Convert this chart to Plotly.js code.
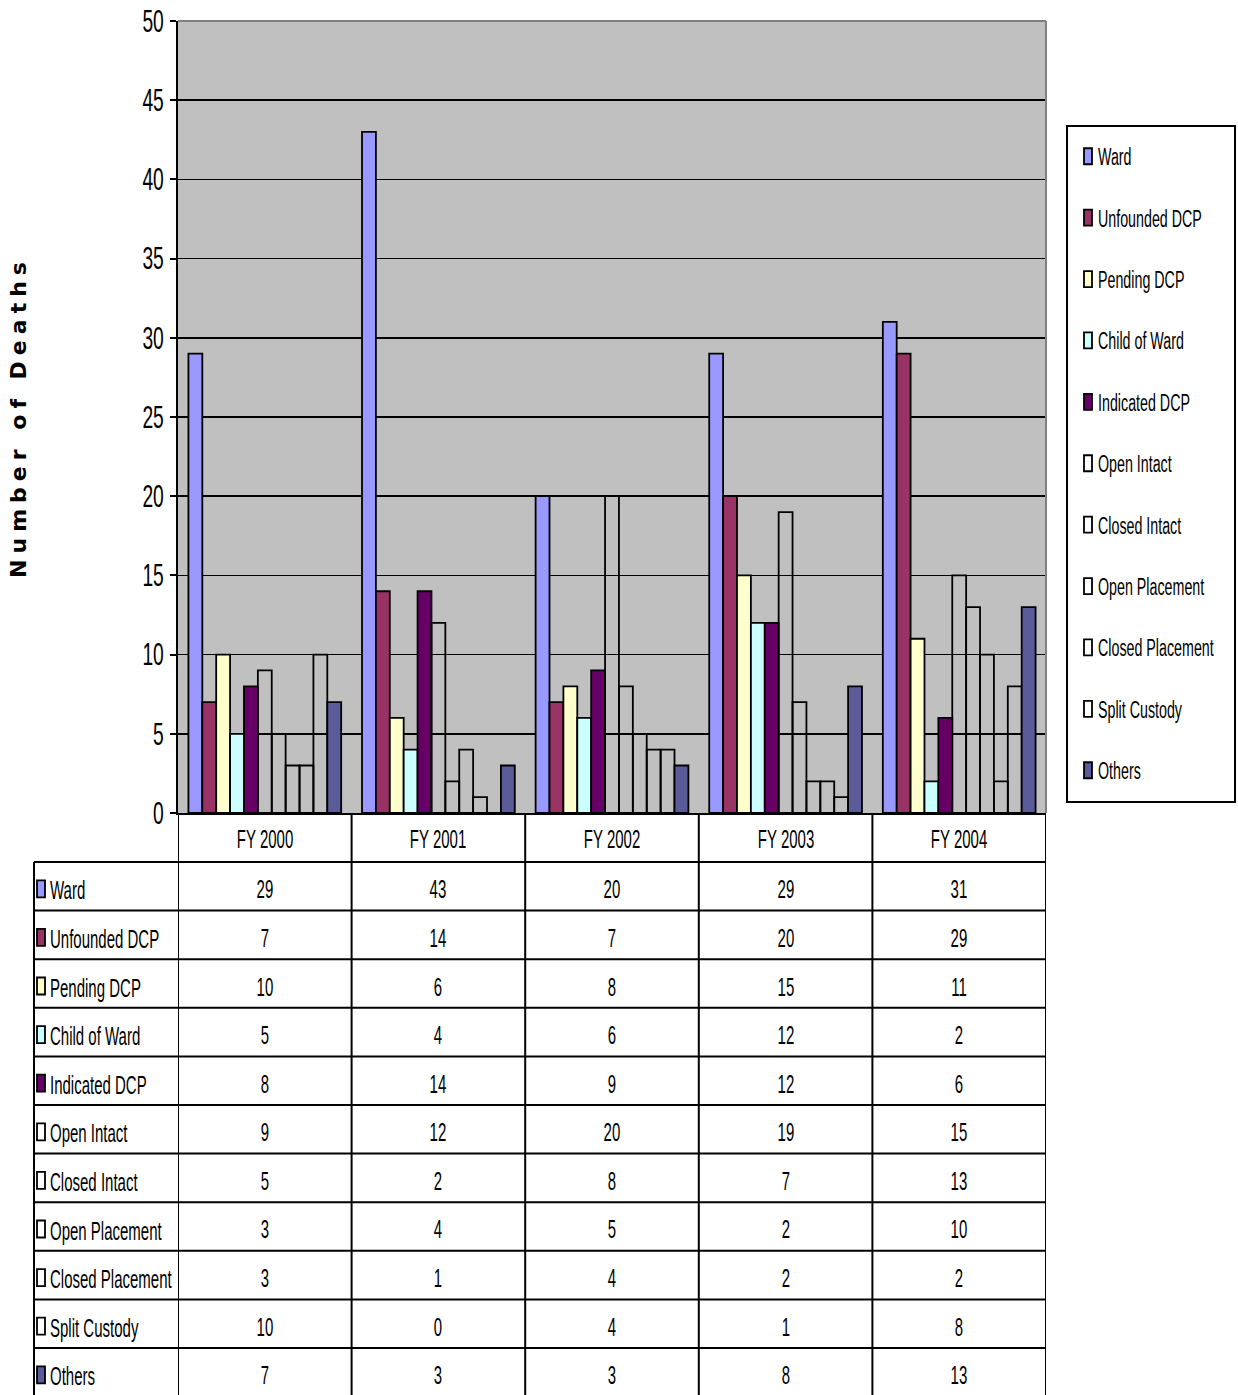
<!DOCTYPE html>
<html>
<head>
<meta charset="utf-8">
<script src="https://cdn.plot.ly/plotly-3.0.1.min.js"></script>
<style>
html,body{margin:0;padding:0;background:#fff;}
#chart{width:1238px;height:1395px;}
text.ytitle{letter-spacing:6px;}
</style>
</head>
<body>
<div id="chart"></div>
<script>
// ---- data ----
const categories = ['FY 2000', 'FY 2001', 'FY 2002', 'FY 2003', 'FY 2004'];
const seriesNames = ['Ward', 'Unfounded DCP', 'Pending DCP', 'Child of Ward', 'Indicated DCP',
  'Open Intact', 'Closed Intact', 'Open Placement', 'Closed Placement', 'Split Custody', 'Others'];
const ward = [29, 43, 20, 29, 31];
const unfoundedDCP = [7, 14, 7, 20, 29];
const pendingDCP = [10, 6, 8, 15, 11];
const childOfWard = [5, 4, 6, 12, 2];
const indicatedDCP = [8, 14, 9, 12, 6];
const openIntact = [9, 12, 20, 19, 15];
const closedIntact = [5, 2, 8, 7, 13];
const openPlacement = [3, 4, 5, 2, 10];
const closedPlacement = [3, 1, 4, 2, 2];
const splitCustody = [10, 0, 4, 1, 8];
const others = [7, 3, 3, 8, 13];
const seriesValues = [ward, unfoundedDCP, pendingDCP, childOfWard, indicatedDCP,
  openIntact, closedIntact, openPlacement, closedPlacement, splitCustody, others];
const seriesColors = ['#9999FF', '#993366', '#FFFFCC', '#CCFFFF', '#660066',
  'rgba(0,0,0,0)', 'rgba(0,0,0,0)', 'rgba(0,0,0,0)', 'rgba(0,0,0,0)', 'rgba(0,0,0,0)', '#5B5B99'];
const legendSwatch = ['#9999FF', '#993366', '#FFFFCC', '#CCFFFF', '#660066',
  '#FFFFFF', '#FFFFFF', '#FFFFFF', '#FFFFFF', '#FFFFFF', '#5B5B99'];

// ---- geometry helpers (pixel -> paper) ----
const W = 1238, H = 1395;
const PL = 178, PR = 1046, PT = 21, PB = 813;
const pw = PR - PL, ph = PB - PT;
const px2x = p => (p - PL) / pw;
const py2y = p => (PB - p) / ph;

const FONT = '"Liberation Sans", Arial, sans-serif';
const TFS = 25; // table font size

const traces = seriesNames.map((name, i) => ({
  type: 'bar',
  name: name,
  x: categories,
  y: seriesValues[i],
  legendgroup: 'g' + i,
  marker: {color: seriesColors[i], line: {color: '#000000', width: 1.8}},
  hoverinfo: 'x+y+name'
}));

// ---- data table below the plot ----
const shapes = [];
const annotations = [];
const headerTop = PB, headerBot = 862;
const rowH = 48.6;
const tableLeft = 34;
const lineStyle = {color: '#000000', width: 2};

for (let k = 0; k <= categories.length; k++) {
  shapes.push({type: 'line', xref: 'x', yref: 'paper', x0: k - 0.5, x1: k - 0.5,
    y0: py2y(headerTop), y1: py2y(H + 5), line: lineStyle});
}
shapes.push({type: 'line', xref: 'paper', yref: 'paper', x0: px2x(tableLeft), x1: px2x(tableLeft),
  y0: py2y(headerBot), y1: py2y(H + 5), line: lineStyle});
for (let r = 0; r <= seriesNames.length; r++) {
  const yy = headerBot + r * rowH;
  shapes.push({type: 'line', xref: 'paper', yref: 'paper', x0: px2x(tableLeft), x1: 1,
    y0: py2y(yy), y1: py2y(yy), line: lineStyle});
}
categories.forEach(c => {
  annotations.push({xref: 'x', yref: 'paper', x: c, y: py2y((headerTop + headerBot) / 2 + 1),
    text: c, showarrow: false, font: {family: FONT, size: TFS, color: '#000'}, xanchor: 'center', yanchor: 'middle'});
});
seriesNames.forEach((name, r) => {
  const cy = headerBot + (r + 0.5) * rowH + 3;
  shapes.push({type: 'rect', xref: 'paper', yref: 'paper', x0: px2x(37), x1: px2x(45),
    y0: py2y(cy - 9), y1: py2y(cy + 8), fillcolor: legendSwatch[r], line: {color: '#000', width: 1.8}});
  annotations.push({xref: 'paper', yref: 'paper', x: px2x(48), y: py2y(cy + 1),
    text: name, showarrow: false, font: {family: FONT, size: TFS, color: '#000'},
    xanchor: 'left', yanchor: 'middle', align: 'left'});
  categories.forEach((c, k) => {
    annotations.push({xref: 'x', yref: 'paper', x: c, y: py2y(cy),
      text: String(seriesValues[r][k]), showarrow: false, font: {family: FONT, size: TFS, color: '#000'},
      xanchor: 'center', yanchor: 'middle'});
  });
});
shapes.push({type: 'line', xref: 'paper', yref: 'paper', x0: 0, x1: 1, y0: 1, y1: 1, line: {color: '#808080', width: 2}});
shapes.push({type: 'line', xref: 'paper', yref: 'paper', x0: 1, x1: 1, y0: 0, y1: 1, line: {color: '#808080', width: 2}});

const layout = {
  width: W, height: H,
  margin: {l: PL, r: W - PR, t: PT, b: H - PB, autoexpand: false},
  paper_bgcolor: '#FFFFFF',
  plot_bgcolor: '#C0C0C0',
  barmode: 'group',
  bargap: 0.12,
  bargroupgap: 0,
  showlegend: true,
  legend: {
    x: px2x(1066), y: py2y(125), xanchor: 'left', yanchor: 'top',
    bgcolor: '#FFFFFF', bordercolor: '#000000', borderwidth: 2,
    font: {family: FONT, size: 23, color: '#000'},
    tracegroupgap: 28.5, traceorder: 'grouped', itemwidth: 30,
    title: {text: '\u00a0', font: {family: FONT, size: 6}}
  },
  xaxis: {
    type: 'category', showticklabels: false, showgrid: false, zeroline: false,
    showline: true, linecolor: '#000', linewidth: 2, ticks: '', range: [-0.5, 4.5]
  },
  yaxis: {
    range: [0, 50], dtick: 5, tick0: 0, showgrid: true, gridcolor: '#000000', gridwidth: 1.5,
    zeroline: false, showline: true, linecolor: '#000', linewidth: 2,
    ticks: 'outside', ticklen: 6, tickwidth: 2, tickcolor: '#000', ticklabeloverflow: 'allow',
    tickfont: {family: FONT, size: 31, color: '#000'},
    title: {text: 'Number of Deaths', font: {family: '"DejaVu Sans", sans-serif', size: 22, color: '#000', weight: 'bold'}, standoff: 97}
  },
  shapes: shapes,
  annotations: annotations
};

// horizontally condense text (the original uses a narrow typeface)
function condense(selector, f) {
  document.querySelectorAll(selector).forEach(t => {
    const L = t.getComputedTextLength();
    if (L > 0) {
      t.setAttribute('textLength', (L * f).toFixed(1));
      t.setAttribute('lengthAdjust', 'spacingAndGlyphs');
    }
  });
}

Plotly.newPlot('chart', traces, layout, {displayModeBar: false, staticPlot: true}).then(() => {
  condense('#chart .annotation-text', 0.6);
  condense('#chart .legendtext', 0.62);
  condense('#chart .ytick text', 0.62);
  // narrow, tall legend keys and tighter legend box
  document.querySelectorAll('#chart .legendpoints path').forEach(p => p.setAttribute('d', 'M4,8H-4V-8H4Z'));
  document.querySelectorAll('#chart .legendtext').forEach(t => t.setAttribute('x', 30));
  const bg = document.querySelector('#chart .legend rect.bg');
  if (bg) {
    bg.setAttribute('width', 168);
    const h = parseFloat(bg.getAttribute('height')) || 0;
    if (h) bg.setAttribute('height', h + 9);
  }
});
</script>
</body>
</html>
